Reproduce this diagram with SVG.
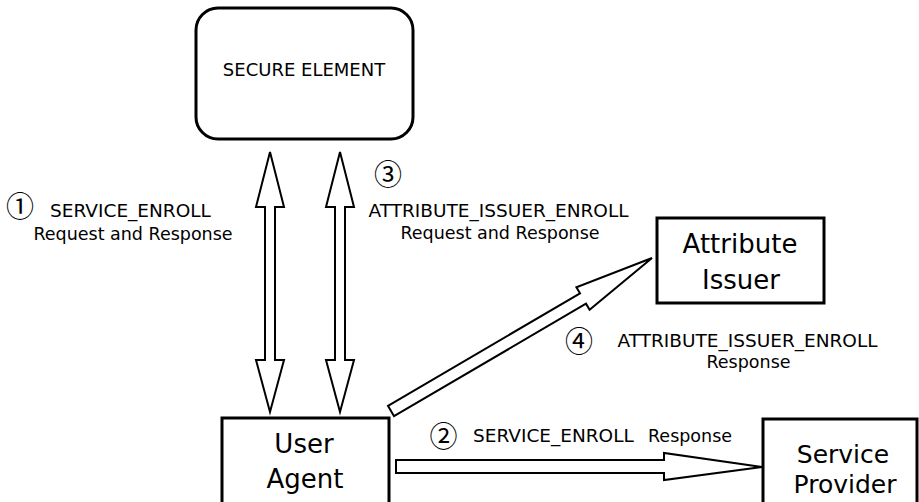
<svg xmlns="http://www.w3.org/2000/svg" width="919" height="502" viewBox="0 0 919 502">
  <style>
    .box { fill: #ffffff; stroke: #000000; stroke-width: 3; }
    .arrow { fill: #ffffff; stroke: #000000; stroke-width: 2; stroke-linejoin: miter; }
    .node { font-family: "DejaVu Sans", "Liberation Sans", sans-serif; font-size: 26px; fill: #000000; text-anchor: middle; }
    .node.sm { font-size: 25px; }
    .title { font-family: "DejaVu Sans", "Liberation Sans", sans-serif; font-size: 18px; fill: #000000; text-anchor: middle; }
    .lbl { font-family: "DejaVu Sans", "Liberation Sans", sans-serif; font-size: 17.5px; fill: #000000; text-anchor: middle; }
    .caps { font-size: 18.5px; }
    .start { text-anchor: start; }
    .num { font-family: "Noto Sans CJK JP", "DejaVu Sans", sans-serif; font-size: 28px; fill: #000000; text-anchor: middle; }
  </style>

  <rect width="919" height="502" fill="#ffffff"/>

  <!-- connectors -->
  <g id="connectors">
    <!-- secure element <-> user agent, service enrol -->
    <polygon class="arrow" points="270,152 284,207 275,207 275,360 284,360 270,412 256,360 265,360 265,207 256,207"/>
    <!-- secure element <-> user agent, attribute issuer enrol -->
    <polygon class="arrow" points="340,152 354,207 345,207 345,360 354,360 340,412 326,360 335,360 335,207 326,207"/>
    <!-- user agent -> attribute issuer -->
    <polygon class="arrow" points="652,258 589.6,309.7 586,303.7 394,416.2 388,405.8 580,293.3 576.4,287.3"/>
    <!-- user agent -> service provider -->
    <polygon class="arrow" points="396,460 664,460 664,453 762,467 664,480 664,473 396,473"/>
  </g>

  <!-- nodes -->
  <g id="secure-element">
    <rect class="box" x="196" y="8" width="217" height="131" rx="22" ry="22"/>
    <text class="title" x="304" y="76">SECURE ELEMENT</text>
  </g>

  <g id="attribute-issuer">
    <rect class="box" x="657" y="218" width="167" height="85"/>
    <text class="node" x="740" y="253">Attribute</text>
    <text class="node" x="741" y="289">Issuer</text>
  </g>

  <g id="user-agent">
    <rect class="box" x="222" y="418" width="167" height="90"/>
    <text class="node" x="304" y="453">User</text>
    <text class="node" x="305" y="488">Agent</text>
  </g>

  <g id="service-provider">
    <rect class="box" x="763" y="419" width="154" height="90"/>
    <text class="node sm" x="843" y="463">Service</text>
    <text class="node sm" x="845" y="493">Provider</text>
  </g>

  <!-- step labels -->
  <g id="labels">
    <text class="num" x="20" y="217">①</text>
    <text class="lbl caps" x="130.5" y="217">SERVICE_ENROLL</text>
    <text class="lbl" x="133" y="240">Request and Response</text>

    <text class="num" x="388" y="185">③</text>
    <text class="lbl caps" x="498.5" y="217">ATTRIBUTE_ISSUER_ENROLL</text>
    <text class="lbl" x="500" y="239">Request and Response</text>

    <text class="num" x="579" y="352">④</text>
    <text class="lbl caps" x="747.5" y="347">ATTRIBUTE_ISSUER_ENROLL</text>
    <text class="lbl" x="748.5" y="368">Response</text>

    <text class="num" x="443.5" y="447">②</text>
    <text class="lbl caps start" x="473" y="442">SERVICE_ENROLL<tspan x="648" font-size="17.5px">Response</tspan></text>
  </g>
</svg>
